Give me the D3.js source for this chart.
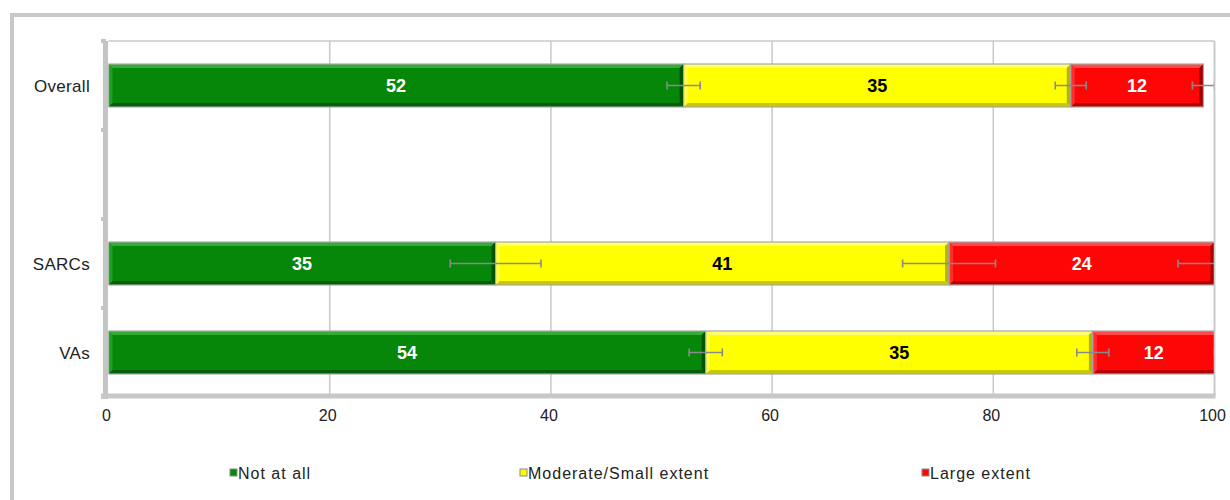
<!DOCTYPE html>
<html>
<head>
<meta charset="utf-8">
<script src="https://cdn.jsdelivr.net/npm/d3@7"></script>
<style>
  html, body { margin: 0; padding: 0; background: #fff; }
  svg { display: block; }
  text { font-family: Arial, "Liberation Sans", sans-serif; }
</style>
</head>
<body>
<svg id="chart" width="1230" height="500"></svg>
<script>
// ---- data ----
const categories = ["Overall", "", "SARCs", "VAs"];
const seriesNames = ["Not at all", "Moderate/Small extent", "Large extent"];
const notAtAll = [52, null, 35, 54];
const moderate = [35, null, 41, 35];
const large    = [12, null, 24, 12];
const errNotAtAll = [1.5, null, 4.1, 1.5];
const errModerate = [1.4, null, 4.2, 1.45];
const errLarge    = [1.0, null, 3.3, 1.0];
const xTicks = [0, 20, 40, 60, 80, 100];

(function () {
// ---- styles ----
const palette = [
  { base: "#06870a", light: "#34ad37", dark: "#045f06", side: "#03520a", text: "#fff" },
  { base: "#ffff00", light: "#ffff70", dark: "#c9c900", side: "#b3b300", text: "#000" },
  { base: "#ff0606", light: "#ff4a4a", dark: "#b80000", side: "#a00000", text: "#fff" }
];

const svg = d3.select("#chart");

// outer frame
svg.append("rect").attr("x", 12).attr("y", 15).attr("width", 1240).attr("height", 600)
  .attr("fill", "none").attr("stroke", "#c8c8c8").attr("stroke-width", 4);

const pLeft = 108.5, pRight = 1214.5, pTop = 41, pBottom = 397;
const x = d3.scaleLinear().domain([0, 100]).range([pLeft, pRight]);
const y = d3.scaleBand().domain(d3.range(categories.length)).range([pTop, pBottom]).paddingInner(0.517).paddingOuter(0.2585);

// gridlines
const grid = svg.append("g");
grid.selectAll("line.g").data(xTicks.filter(d => d > 0)).enter().append("line")
  .attr("x1", d => x(d)).attr("x2", d => x(d)).attr("y1", pTop).attr("y2", pBottom)
  .attr("stroke", "#c8c8c8").attr("stroke-width", 1.5);
grid.append("line").attr("x1", pLeft).attr("x2", pRight).attr("y1", pTop).attr("y2", pTop)
  .attr("stroke", "#c8c8c8").attr("stroke-width", 1.5);

// clip
svg.append("clipPath").attr("id", "plotclip").append("rect")
  .attr("x", pLeft).attr("y", pTop).attr("width", pRight - pLeft).attr("height", pBottom - pTop);

const series = [notAtAll, moderate, large];
const errs = [errNotAtAll, errModerate, errLarge];

const segs = [];
categories.forEach((c, i) => {
  let cum = 0;
  series.forEach((s, k) => {
    if (s[i] == null) return;
    segs.push({ i, k, v: s[i], x0: cum, x1: cum + s[i], err: errs[k][i] });
    cum += s[i];
  });
});

const barsG = svg.append("g").attr("clip-path", "url(#plotclip)");
const bw = y.bandwidth();
const bev = 4;
segs.forEach(d => {
  const X0 = x(d.x0), X1 = x(d.x1), Y0 = y(d.i), Y1 = Y0 + bw;
  const p = palette[d.k];
  const g = barsG.append("g");
  g.append("rect").attr("x", X0).attr("y", Y0).attr("width", X1 - X0).attr("height", bw).attr("fill", p.base);
  g.append("polygon").attr("points", [[X0, Y0], [X1, Y0], [X1 - bev, Y0 + bev], [X0 + bev, Y0 + bev]].join(" "))
    .attr("fill", p.light);
  g.append("polygon").attr("points", [[X0, Y1], [X1, Y1], [X1 - bev, Y1 - bev], [X0 + bev, Y1 - bev]].join(" "))
    .attr("fill", p.dark);
  g.append("polygon").attr("points", [[X1, Y0], [X1, Y1], [X1 - bev, Y1 - bev], [X1 - bev, Y0 + bev]].join(" "))
    .attr("fill", p.side);
  g.append("polygon").attr("points", [[X0, Y0], [X0, Y1], [X0 + bev, Y1 - bev], [X0 + bev, Y0 + bev]].join(" "))
    .attr("fill", p.light).attr("opacity", 0.6);
  g.append("rect").attr("x", X0).attr("y", Y0).attr("width", X1 - X0).attr("height", bw)
    .attr("fill", "none").attr("stroke", "#a8a8a8").attr("stroke-width", 1.2);
});

// labels
segs.forEach(d => {
  const X0 = x(d.x0), X1 = x(Math.min(d.x1, 100));
  svg.append("text").attr("x", (X0 + X1) / 2).attr("y", y(d.i) + bw / 2 + 6.5)
    .attr("text-anchor", "middle").attr("font-weight", "bold").attr("font-size", 18)
    .attr("fill", palette[d.k].text).text(d.v);
});

// error bars
const errG = svg.append("g").attr("clip-path", "url(#plotclip)");
segs.forEach(d => {
  if (d.err == null) return;
  const cy = y(d.i) + bw / 2;
  const a = x(d.x1 - d.err), b = x(d.x1 + d.err);
  errG.append("line").attr("x1", a).attr("x2", b).attr("y1", cy).attr("y2", cy)
    .attr("stroke", "#8a8a8a").attr("stroke-width", 1.6);
  [a, b].forEach(e => errG.append("line").attr("x1", e).attr("x2", e).attr("y1", cy - 4).attr("y2", cy + 4)
    .attr("stroke", "#8a8a8a").attr("stroke-width", 1.6));
});

// right border
svg.append("line").attr("x1", pRight).attr("x2", pRight).attr("y1", pTop).attr("y2", pBottom)
  .attr("stroke", "#c8c8c8").attr("stroke-width", 1.5);

// y axis
const yAxisG = svg.append("g");
yAxisG.append("line").attr("x1", 105.5).attr("x2", 105.5).attr("y1", pTop).attr("y2", pBottom + 2)
  .attr("stroke", "#c4c4c4").attr("stroke-width", 5);
const bounds = d3.range(categories.length + 1).map(i => pTop + i * y.step());
yAxisG.selectAll("line.t").data(bounds).enter().append("line")
  .attr("x1", 101).attr("x2", 106).attr("y1", d => d).attr("y2", d => d)
  .attr("stroke", "#c4c4c4").attr("stroke-width", 4);
// x axis line
svg.append("line").attr("x1", 101).attr("x2", pRight + 1).attr("y1", pBottom - 1).attr("y2", pBottom - 1)
  .attr("stroke", "#c8c8c8").attr("stroke-width", 5);

// category labels
categories.forEach((c, i) => {
  svg.append("text").attr("x", 90).attr("y", y(i) + bw / 2 + 6)
    .attr("text-anchor", "end").attr("font-size", 17).attr("letter-spacing", 0.3).attr("fill", "#222").text(c);
});

// x tick labels
const xAxis = d3.axisBottom(x).tickValues(xTicks).tickSize(0).tickPadding(0).tickFormat(d3.format("d"));
const xg = svg.append("g").attr("transform", `translate(-2.5, ${pBottom + 13})`).call(xAxis);
xg.select(".domain").remove();
xg.selectAll("text").attr("font-size", 16).attr("fill", "#222").attr("font-family", "Arial, 'Liberation Sans', sans-serif");

// legend
const legX = [230, 520, 922];
seriesNames.forEach((n, k) => {
  const g = svg.append("g").attr("transform", `translate(${legX[k]}, 469)`);
  g.append("rect").attr("x", 0).attr("y", 0).attr("width", 7).attr("height", 7)
    .attr("fill", palette[k].base).attr("stroke", "#8a8a8a").attr("stroke-width", 1);
  g.append("text").attr("x", 8).attr("y", 10).attr("font-size", 16).attr("letter-spacing", 1)
    .attr("fill", "#222").text(n);
});
})();
</script>
</body>
</html>
